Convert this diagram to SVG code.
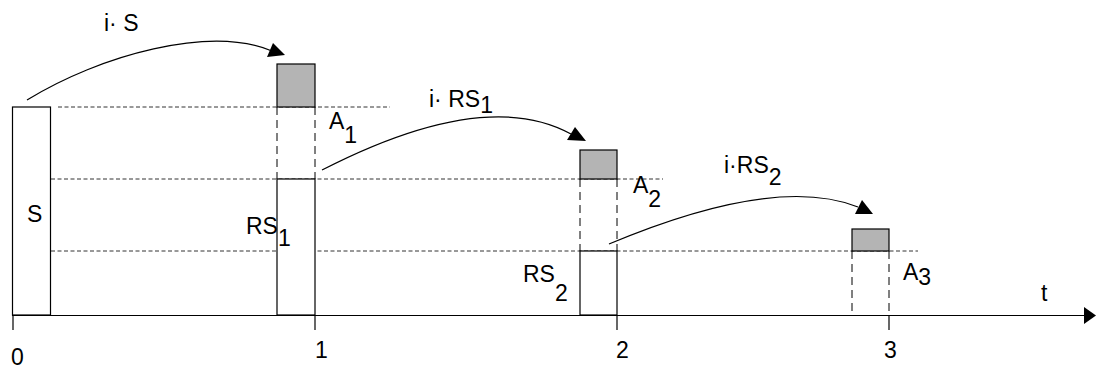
<svg xmlns="http://www.w3.org/2000/svg" width="1096" height="369" viewBox="0 0 1096 369">
<style>
.solid{fill:none;stroke:#000;stroke-width:1.2}
.box{fill:#fff;stroke:#000;stroke-width:1.2}
.gray{fill:#b4b4b4;stroke:#000;stroke-width:1.2}
.hd{fill:none;stroke:#333;stroke-width:1;stroke-dasharray:4 2.5}
.vd{fill:none;stroke:#000;stroke-width:1;stroke-dasharray:8 5}
.curve{fill:none;stroke:#000;stroke-width:1.2}
.head{fill:#000;stroke:none}
text{font-family:"Liberation Sans",Arial,sans-serif;font-size:23px;fill:#000}
</style>
<rect width="1096" height="369" fill="#fff"/>
<g id="guides">
<line class="hd" x1="58" y1="107" x2="390" y2="107"/>
<line class="hd" x1="51" y1="179" x2="663" y2="179"/>
<line class="hd" x1="51" y1="251" x2="918" y2="251"/>
</g>
<g id="axis">
<line class="solid" x1="12" y1="315.5" x2="1084" y2="315.5"/>
<polygon class="head" points="1084,307 1096,315.5 1084,324"/>
<line class="solid" x1="13" y1="315" x2="13" y2="330"/>
<line class="solid" x1="315" y1="315" x2="315" y2="330"/>
<line class="solid" x1="617" y1="315" x2="617" y2="330"/>
<line class="solid" x1="889" y1="315" x2="889" y2="330"/>
<text x="11" y="365">0</text>
<text x="315" y="358">1</text>
<text x="616" y="358">2</text>
<text x="884" y="358">3</text>
<text x="1041" y="301">t</text>
</g>
<g id="S">
<rect class="box" x="12.5" y="107" width="38" height="208"/>
<text x="27" y="222">S</text>
</g>
<g id="A1">
<rect class="gray" x="277" y="64" width="38" height="43"/>
<line class="vd" x1="277" y1="107" x2="277" y2="179"/>
<line class="vd" x1="315" y1="107" x2="315" y2="179"/>
<text x="329" y="129">A<tspan dy="14">1</tspan></text>
</g>
<g id="RS1">
<rect class="box" x="277" y="179" width="38" height="136"/>
<text x="246" y="234">RS<tspan dy="12">1</tspan></text>
</g>
<g id="A2">
<rect class="gray" x="580" y="150" width="37" height="29"/>
<line class="vd" x1="580" y1="179" x2="580" y2="251"/>
<line class="vd" x1="617" y1="179" x2="617" y2="251"/>
<text x="633" y="193">A<tspan dy="14">2</tspan></text>
</g>
<g id="RS2">
<rect class="box" x="580" y="251" width="37" height="64"/>
<text x="523" y="282">RS<tspan dy="19">2</tspan></text>
</g>
<g id="A3">
<rect class="gray" x="852" y="229" width="37" height="22"/>
<line class="vd" x1="852" y1="251" x2="852" y2="315"/>
<line class="vd" x1="889" y1="251" x2="889" y2="315"/>
<text x="903" y="280">A<tspan dy="5">3</tspan></text>
</g>
<g id="connectors">
<path class="curve" d="M27,100 C100,55 210,25 272,51"/>
<polygon class="head" points="267,57 273,43 285,55"/>
<text x="104" y="31">i· S</text>
<path class="curve" d="M322,170 C400,130 500,95 571,134"/>
<polygon class="head" points="567,140 575,127 586,141"/>
<text x="429" y="107">i· RS<tspan dy="6">1</tspan></text>
<path class="curve" d="M609,244 C690,210 790,180 858,207"/>
<polygon class="head" points="855,214 862,200 873,214"/>
<text x="724" y="173">i·RS<tspan dy="12">2</tspan></text>
</g>
</svg>
